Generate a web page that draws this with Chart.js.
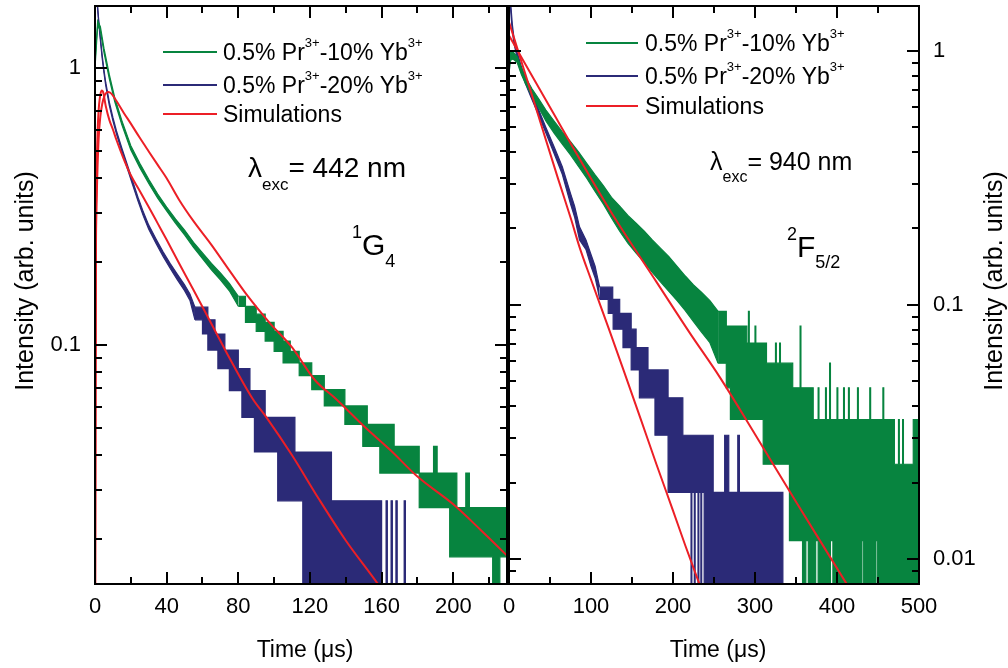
<!DOCTYPE html>
<html><head><meta charset="utf-8">
<script src="https://cdn.jsdelivr.net/npm/chart.js@4.4.1/dist/chart.umd.min.js"></script>
<style>
html,body{margin:0;padding:0;background:#fff;}
#wrap{position:relative;width:1008px;height:668px;overflow:hidden;background:#fff;}
#cL{position:absolute;left:0;top:0;width:508px;height:668px;}
#cR{position:absolute;left:480px;top:0;width:528px;height:668px;}
</style></head><body>
<div id="wrap">
<canvas id="cL" width="508" height="668"></canvas>
<canvas id="cR" width="528" height="668"></canvas>
</div>
<script>
// ---------- tick values ----------
const leftXTicks = [0, 40, 80, 120, 160, 200];
const leftXMinor = [20, 60, 100, 140, 180, 220];
const leftYTicks = [0.1, 1];
const leftYMinor = [0.02,0.03,0.04,0.05,0.06,0.07,0.08,0.09,0.2,0.3,0.4,0.5,0.6,0.7,0.8,0.9];
const rightXTicks = [0, 100, 200, 300, 400, 500];
const rightXMinor = [50, 150, 250, 350, 450];
const rightYTicks = [0.01, 0.1, 1];
const rightYMinor = [0.009,0.02,0.03,0.04,0.05,0.06,0.07,0.08,0.09,0.2,0.3,0.4,0.5,0.6,0.7,0.8,0.9];

// ---------- left panel (lambda_exc = 442 nm, 1G4) ----------
// 0.5% Pr - 10% Yb : early smooth part (upper / lower edge of the trace)
const tG442s = [0,1.5,3,5,8,11,15,20,25,30, 35,40,45,50,55,60,65,70,75,80];
const hiG442s = [1.05,1.48,1.41,1.18,0.946,0.783,0.646,0.524,0.453,0.397, 0.351,0.315,0.285,0.26,0.235,0.215,0.197,0.182,0.167,0.15];
const loG442s = [1.0,1.43,1.36,1.14,0.914,0.757,0.624,0.506,0.437,0.383, 0.339,0.305,0.275,0.25,0.225,0.205,0.187,0.172,0.157,0.138];
// 0.5% Pr - 10% Yb : photon-count staircase part
const tG442 = [80,84,90,95,100,105,109,114,121,128, 139.5,149.5,152,159,167,181,189,191,198,202, 207,209,222,226,230];
const hiG442 = [0.15,0.138,0.1293,0.1207,0.112,0.1034,0.0948,0.0862,0.0776,0.069, 0.0603,0.0603,0.0517,0.0517,0.0431,0.0345,0.0431,0.0345,0.0345,0.0259, 0.0345,0.0259,0.0259,0.0259,0.0259];
const loG442 = [0.138,0.1207,0.112,0.1034,0.0948,0.0862,0.0862,0.0776,0.069,0.0603, 0.0517,0.0431,0.0431,0.0345,0.0345,0.0259,0.0259,0.0259,0.0172,0.0172, 0.0172,0.0172,0.01,0.0172,0.0172];
// 0.5% Pr - 20% Yb
const tB442s = [0,1,2,3,4,5,6,8,10,12, 15,18,21,24,27,30,34,38,42,46, 50,53,55.8];
const hiB442s = [2.3,1.83,1.51,1.29,1.115,0.985,0.887,0.753,0.663,0.593, 0.514,0.449,0.391,0.342,0.302,0.271,0.242,0.217,0.197,0.18, 0.165,0.153,0.137];
const loB442s = [2.2,1.78,1.47,1.26,1.085,0.96,0.863,0.732,0.645,0.577, 0.498,0.435,0.379,0.331,0.292,0.262,0.233,0.209,0.189,0.172, 0.157,0.145,0.1233];
const tB442 = [55.8,60,63,67,68.6,72.5,75,80,82,86.5, 89,95,102,111.6,116,132,160,162.5,163.2,165.3, 166,168,168.7,172.6,173.3,175];
const hiB442 = [0.137,0.137,0.1233,0.1096,0.1096,0.0959,0.0959,0.0822,0.0822,0.0685, 0.0685,0.0548,0.0548,0.0411,0.0411,0.0274,0.01,0.0274,0.01,0.0274, 0.01,0.0274,0.01,0.0274,0.01,0.01];
const loB442 = [0.1233,0.1096,0.0959,0.0959,0.0822,0.0822,0.0685,0.0685,0.0548,0.0548, 0.0411,0.0411,0.0274,0.0274,0.01,0.01,0.01,0.01,0.01,0.01, 0.01,0.01,0.01,0.01,0.01,0.01];
// simulations
const tSimA442 = [0,0.3,0.6,1,1.5,2,2.7,3.7,4.5,6, 8,10,12,16,20,25,30,35,40,47, 55,66,75,88,96,110,125,140,158,170];
const vSimA442 = [0.005,0.12,0.28,0.45,0.6,0.7,0.78,0.83,0.82,0.73, 0.65,0.6,0.55,0.47,0.41,0.36,0.315,0.275,0.24,0.197, 0.158,0.116,0.09,0.064,0.0545,0.04,0.0278,0.0197,0.0137,0.0105];
const tSimB442 = [0,0.5,1,2,3,4,5.5,7.4,9,12, 16,20,25,30,35,40,47,55,65,75, 85,97.6,110,122.7,135,150,165,180,200,215, 228.7,232];
const vSimB442 = [0.005,0.2,0.35,0.55,0.67,0.74,0.8,0.82,0.81,0.76, 0.69,0.63,0.56,0.5,0.447,0.4,0.334,0.28,0.23,0.186, 0.151,0.12,0.098,0.0748,0.0635,0.051,0.0417,0.0335,0.0266,0.0216, 0.0177,0.0168];

// ---------- right panel (lambda_exc = 940 nm, 2F5/2) ----------
const tG940s = [0,2,5,10,15,20,28,36,45,55, 65,75,85,95,105,115,125,135,145,155, 165,175,185,195,205,215,225,235,245,255];
const hiG940s = [1.0,1.0,0.99,0.95,0.86,0.79,0.71,0.65,0.585,0.53, 0.48,0.44,0.4,0.36,0.325,0.295,0.265,0.245,0.225,0.21, 0.195,0.18,0.167,0.155,0.142,0.13,0.12,0.112,0.104,0.0944];
const loG940s = [0.82,0.92,0.93,0.9,0.81,0.745,0.665,0.6,0.53,0.475, 0.43,0.39,0.35,0.315,0.28,0.25,0.22,0.195,0.175,0.16, 0.147,0.134,0.123,0.113,0.104,0.095,0.086,0.078,0.071,0.059];
const tG940 = [255, 265,270,285,290,292,293,300,301,310,314, 325,326,330,331,342,346,355,356,358,362, 365,371,374,377,378,386,387,391,392,395, 400,401,408,409,414,415,425,426,430,432, 440,441,447,449,456,457,470,475,476,480, 481,493,500];
const hiG940 = [0.0944, 0.0826,0.0826,0.0826,0.0708,0.0944,0.0708,0.0826,0.0708,0.0708,0.059, 0.0708,0.059,0.0708,0.059,0.059,0.0472,0.0826,0.0472,0.0472,0.0472, 0.0472,0.0354,0.0354,0.0472,0.0354,0.0472,0.0354,0.059,0.0354,0.0354, 0.0472,0.0354,0.0472,0.0354,0.0472,0.0354,0.0472,0.0354,0.0354,0.0354, 0.0472,0.0354,0.0354,0.0354,0.0472,0.0354,0.0236,0.0354,0.0236,0.0354, 0.0236,0.0354,0.0354];
const loG940 = [0.059, 0.0472,0.0354,0.0354,0.0354,0.0354,0.0354,0.0354,0.0354,0.0236,0.0236, 0.0236,0.0236,0.0236,0.0236,0.0118,0.0118,0.0118,0.0118,0.005,0.0118, 0.005,0.005,0.0118,0.005,0.005,0.005,0.005,0.005,0.0118,0.005, 0.005,0.005,0.005,0.005,0.005,0.005,0.005,0.005,0.0118,0.005, 0.005,0.005,0.0118,0.005,0.005,0.005,0.005,0.005,0.005,0.005, 0.005,0.005,0.005];
const tB940s = [0,2,4,6,10,15,20,27,35,45, 55,65,75,80,86,94,100,105,108,110.6];
const hiB940s = [2.0,1.55,1.28,1.13,0.99,0.87,0.78,0.69,0.6,0.5, 0.42,0.35,0.275,0.245,0.203,0.18,0.158,0.142,0.128,0.1175];
const loB940s = [1.85,1.45,1.2,1.07,0.94,0.83,0.745,0.655,0.57,0.475, 0.395,0.327,0.25,0.222,0.18,0.165,0.142,0.128,0.116,0.1051];
const tB940 = [110.6, 121,126.5,127,135,139,149,155,159,169.5,178, 194,212,222,223,226,227,230.5,231.5,234,235, 238,249,263,268,279,281,334,340];
const hiB940 = [0.1175, 0.1175,0.1051,0.1051,0.0927,0.0927,0.0803,0.0679,0.0679,0.0555,0.0555, 0.0431,0.0307,0.0307,0.0307,0.0307,0.0307,0.0307,0.0307,0.0307,0.0307, 0.0307,0.0183,0.0307,0.0183,0.0307,0.0183,0.005,0.005];
const loB940 = [0.1051, 0.0927,0.0927,0.0803,0.0803,0.0679,0.0555,0.0555,0.0431,0.0431,0.0307, 0.0183,0.0183,0.005,0.0183,0.005,0.0183,0.005,0.0183,0.005,0.0183, 0.005,0.005,0.005,0.005,0.005,0.005,0.005,0.005];
const tSimA940 = [0,20,40,60,76,86,100,123,140,161.5,180,200,215,232,240];
const vSimA940 = [1.3,0.81,0.503,0.313,0.216,0.169,0.126,0.0785,0.055,0.0349,0.0235,0.0155,0.0113,0.008,0.0068];
const tSimB940 = [0,50,100,129,180,220,257,300,350,411.5,420];
const vSimB940 = [1.15,0.6,0.315,0.22,0.123,0.078,0.052,0.031,0.0168,0.008,0.0072];

// ---------- styles ----------
const FAM = "'Liberation Sans', Arial, Helvetica, sans-serif";
const GREEN = '#07843f', BLUE = '#2b2a77', RED = '#ec1f26';

function pts(t, v) { return t.map((x, i) => ({x: x, y: v[i]})); }
function band(t, hi, lo, color, stepped) {
  return [
    {data: pts(t, hi), borderColor: color, backgroundColor: color, borderWidth: 1.2, stepped: stepped, pointRadius: 0, fill: false},
    {data: pts(t, lo), borderColor: color, backgroundColor: color, borderWidth: 1.2, stepped: stepped, pointRadius: 0, fill: '-1'}
  ];
}
function curve(t, v, color) {
  return {data: pts(t, v), borderColor: color, borderWidth: 2, pointRadius: 0, fill: false, cubicInterpolationMode: 'monotone'};
}

function runs(ctx, x, list) {
  ctx.textAlign = 'left'; ctx.textBaseline = 'alphabetic';
  for (const [txt, size, y] of list) {
    ctx.font = size + 'px ' + FAM;
    ctx.fillText(txt, x, y);
    x += ctx.measureText(txt).width;
  }
}

function decorPlugin(o) {
  return {
    id: 'decor',
    afterDraw(chart) {
      const ctx = chart.ctx, a = chart.chartArea, xs = chart.scales.x, ys = chart.scales.y;
      const ox = o.offsetX;
      ctx.save();
      ctx.strokeStyle = '#000'; ctx.lineWidth = 2;
      ctx.beginPath();
      const xt = [[o.xMaj, 12], [o.xMin, 7]], yt = [[o.yMaj, 12], [o.yMin, 7]];
      for (const [vals, len] of xt) for (const v of vals) {
        const p = Math.round(xs.getPixelForValue(v));
        ctx.moveTo(p, a.bottom); ctx.lineTo(p, a.bottom - len);
        ctx.moveTo(p, a.top); ctx.lineTo(p, a.top + len);
      }
      for (const [vals, len] of yt) for (const v of vals) {
        const p = Math.round(ys.getPixelForValue(v));
        ctx.moveTo(a.left, p); ctx.lineTo(a.left + len, p);
        ctx.moveTo(a.right, p); ctx.lineTo(a.right - len, p);
      }
      ctx.stroke();
      ctx.strokeRect(a.left, a.top, a.right - a.left, a.bottom - a.top);
      // legend
      const cols = [GREEN, BLUE, RED];
      o.legY.forEach((y, i) => {
        ctx.strokeStyle = cols[i]; ctx.lineWidth = 2;
        ctx.beginPath(); ctx.moveTo(o.legX1 - ox, y); ctx.lineTo(o.legX2 - ox, y); ctx.stroke();
        ctx.fillStyle = '#000';
        const b = y + 7.5;
        if (i < 2) {
          runs(ctx, o.legTx - ox, [['0.5% Pr', 23, b], ['3+', 13, b - 12.5], [i === 0 ? '-10% Yb' : '-20% Yb', 23, b], ['3+', 13, b - 12.5]]);
        } else {
          runs(ctx, o.legTx - ox, [['Simulations', 23, b]]);
        }
      });
      // annotations
      ctx.fillStyle = '#000';
      runs(ctx, o.lamX - ox, o.lamRuns);
      runs(ctx, o.levX - ox, o.levRuns);
      // axis titles
      ctx.textAlign = 'center'; ctx.textBaseline = 'middle';
      ctx.font = '23px ' + FAM;
      ctx.fillText('Time (\u03bcs)', o.xTitleX - ox, 651);
      ctx.save();
      ctx.translate(o.yTitleX - ox, 281);
      ctx.rotate(-Math.PI / 2);
      ctx.font = '25px ' + FAM;
      ctx.fillText('Intensity (arb. units)', 0, 0);
      ctx.restore();
      ctx.restore();
    }
  };
}

function scaleOpts(o) {
  return {
    x: {
      type: 'linear', position: 'bottom', min: o.xmin, max: o.xmax,
      grid: {display: false, drawTicks: false}, border: {display: false},
      ticks: {font: {family: FAM, size: 22}, color: '#000', padding: 10, maxRotation: 0, autoSkip: false, callback: v => String(v)},
      afterBuildTicks: s => { s.ticks = o.xMaj.map(v => ({value: v})); },
      afterFit: s => { s.height = 84; s.paddingLeft = 0; s.paddingRight = 0; s.paddingTop = 0; s.paddingBottom = 0; }
    },
    y: {
      type: 'logarithmic', position: o.yPos, min: o.ymin, max: o.ymax,
      grid: {display: false, drawTicks: false}, border: {display: false},
      ticks: {font: {family: FAM, size: 22}, color: '#000', padding: 14, autoSkip: false, callback: v => String(v)},
      afterBuildTicks: s => { s.ticks = o.yMaj.map(v => ({value: v})); },
      afterFit: s => { s.width = o.yWidth; s.paddingTop = 0; s.paddingBottom = 0; s.paddingLeft = 0; s.paddingRight = 0; }
    }
  };
}

const leftCfg = {
  offsetX: 0, xMaj: leftXTicks, xMin: leftXMinor, yMaj: leftYTicks, yMin: leftYMinor,
  xmin: 0, xmax: 230, ymin: 0.01372, ymax: 1.675, yPos: 'left', yWidth: 95,
  legX1: 163, legX2: 217, legTx: 223, legY: [52, 85, 114],
  lamX: 248, lamRuns: [['\u03bb', 28, 177], ['exc', 17, 190], ['= 442 nm', 28, 177]],
  levX: 352, levRuns: [['1', 18, 238], ['G', 30, 255], ['4', 18, 267]],
  xTitleX: 305, yTitleX: 26
};
const rightCfg = {
  offsetX: 480, xMaj: rightXTicks, xMin: rightXMinor, yMaj: rightYTicks, yMin: rightYMinor,
  xmin: 0, xmax: 500, ymin: 0.00797, ymax: 1.503, yPos: 'right', yWidth: 89,
  legX1: 586, legX2: 638, legTx: 645, legY: [43, 76, 106],
  lamX: 710, lamRuns: [['\u03bb', 25, 170], ['exc', 16, 182], ['= 940 nm', 25, 170]],
  levX: 787, levRuns: [['2', 18, 240], ['F', 30, 257], ['5/2', 18, 268]],
  xTitleX: 718, yTitleX: 995
};

new Chart(document.getElementById('cL'), {
  type: 'line',
  data: {datasets: [
    curve(tSimA442, vSimA442, RED),
    curve(tSimB442, vSimB442, RED),
    ...band(tG442s, hiG442s, loG442s, GREEN, false),
    ...band(tG442, hiG442, loG442, GREEN, true),
    ...band(tB442s, hiB442s, loB442s, BLUE, false),
    ...band(tB442, hiB442, loB442, BLUE, true)
  ]},
  options: {
    responsive: false, animation: false, devicePixelRatio: 1,
    layout: {padding: {left: 0, right: 1, top: 6, bottom: 0}},
    plugins: {legend: {display: false}, tooltip: {enabled: false}},
    scales: scaleOpts(leftCfg)
  },
  plugins: [decorPlugin(leftCfg)]
});

new Chart(document.getElementById('cR'), {
  type: 'line',
  data: {datasets: [
    curve(tSimA940, vSimA940, RED),
    curve(tSimB940, vSimB940, RED),
    ...band(tG940s, hiG940s, loG940s, GREEN, false),
    ...band(tG940, hiG940, loG940, GREEN, true),
    ...band(tB940s, hiB940s, loB940s, BLUE, false),
    ...band(tB940, hiB940, loB940, BLUE, true)
  ]},
  options: {
    responsive: false, animation: false, devicePixelRatio: 1,
    layout: {padding: {left: 29, right: 0, top: 6, bottom: 0}},
    plugins: {legend: {display: false}, tooltip: {enabled: false}},
    scales: scaleOpts(rightCfg)
  },
  plugins: [decorPlugin(rightCfg)]
});
</script>
</body></html>
